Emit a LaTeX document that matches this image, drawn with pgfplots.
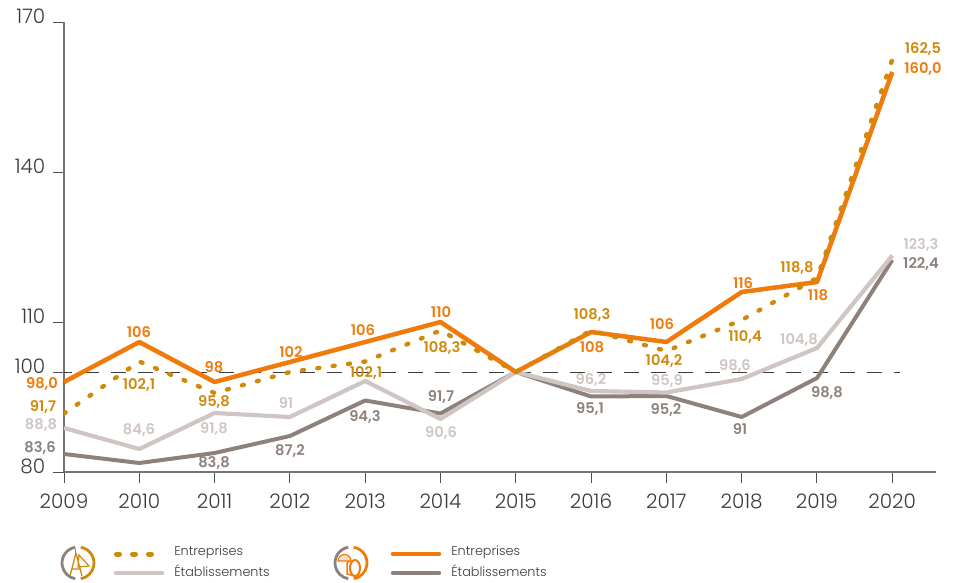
\documentclass[border=0pt]{standalone}
\usepackage{fontspec}
\usepackage{pgfplots}
\pgfplotsset{compat=1.18}
\setmainfont{Poppins Light}
\newfontfamily\labf{Poppins SemiBold}
\definecolor{orgS}{HTML}{F07A0A}
\definecolor{golD}{HTML}{CF8A0C}
\definecolor{lig}{HTML}{CFC6C3}
\definecolor{dar}{HTML}{8E817B}
\definecolor{txt}{HTML}{3C3A3A}
\newlength{\uu}\setlength{\uu}{0.75pt}
\newcommand{\lab}[4]{\node[text=#4,font=\labf\fontsize{11}{12}\selectfont,inner sep=0pt,anchor=center] at ({(#1-64)*\uu},{(472-#2)*\uu}) {#3};}
\begin{document}
\begin{tikzpicture}
\useasboundingbox (-64\uu,-110\uu) rectangle (892\uu,472\uu);
\begin{axis}[
  at={(0,0)},anchor=south west,scale only axis,
  width=872\uu,height=450\uu,
  xmin=2009,xmax=2020.58,ymin=80,ymax=170,
  axis lines=left,axis line style={-,color=txt!70,line width=0.8pt},
  xtick={2009,...,2020},ytick={80,100,110,140,170},
  tick align=outside,major tick length=11\uu,
  tick style={color=txt!90,line width=0.7pt},
  /pgf/number format/assume math mode=true,
  /pgf/number format/1000 sep={},
  xticklabel style={font=\fontsize{15}{16}\selectfont,text=txt,yshift=-6\uu},
  yticklabel style={font=\fontsize{15}{16}\selectfont,text=txt,yshift=6\uu,xshift=-3\uu},
]
\addplot[txt,line width=0.55pt,dash pattern=on 15\uu off 12\uu,dash phase=7\uu,forget plot] coordinates {(2009,100)(2020.1,100)};
\addplot[dar,line width=4\uu,line join=round] coordinates {(2009,83.6)(2010,81.8)(2011,83.8)(2012,87.2)(2013,94.3)(2014,91.7)(2015,100)(2016,95.1)(2017,95.2)(2018,91)(2019,98.8)(2020,122.4)};
\addplot[lig,line width=4.2\uu,line join=round] coordinates {(2009,88.8)(2010,84.6)(2011,91.8)(2012,91)(2013,98.2)(2014,90.6)(2015,100)(2016,96.2)(2017,95.9)(2018,98.6)(2019,104.8)(2020,123.3)};
\addplot[orgS,line width=4.5\uu,line join=round] coordinates {(2009,98)(2010,106)(2011,98)(2012,102)(2013,106)(2014,110)(2015,100)(2016,108)(2017,106)(2018,116)(2019,118)(2020,160)};
\addplot[golD,line width=4.4\uu,line cap=round,dash pattern=on 2\uu off 13.5\uu] coordinates {(2009,91.7)(2010,102.1)(2011,95.8)(2012,100)(2013,102.1)(2014,108.3)(2015,100)(2016,108.3)(2017,104.2)(2018,110.4)(2019,118.8)(2020,162.5)};
\end{axis}
% solid orange labels
\lab{42}{384}{98,0}{orgS}\lab{139}{332}{106}{orgS}\lab{214}{367}{98}{orgS}\lab{291}{352}{102}{orgS}\lab{363}{330}{106}{orgS}\lab{441}{312}{110}{orgS}\lab{592}{347}{108}{orgS}\lab{662}{324}{106}{orgS}\lab{743}{283}{116}{orgS}\lab{818}{295}{118}{orgS}\lab{923}{69}{160,0}{orgS}
% dotted labels
\lab{43}{407}{91,7}{golD}\lab{139}{385}{102,1}{golD}\lab{214}{402}{95,8}{golD}\lab{366}{373}{102,1}{golD}\lab{442}{348}{108,3}{golD}\lab{592}{315}{108,3}{golD}\lab{664}{361}{104,2}{golD}\lab{745}{337}{110,4}{golD}\lab{797}{268}{118,8}{golD}\lab{923}{49}{162,5}{golD}
% light labels
\lab{41}{425}{88,8}{lig}\lab{139}{430}{84,6}{lig}\lab{214}{429}{91,8}{lig}\lab{286}{403}{91}{lig}\lab{441}{433}{90,6}{lig}\lab{591}{380}{96,2}{lig}\lab{667}{381}{95,9}{lig}\lab{735}{366}{98,6}{lig}\lab{799}{340}{104,8}{lig}\lab{921}{245}{123,3}{lig}
% dark labels
\lab{40}{448}{83,6}{dar}\lab{214}{463}{83,8}{dar}\lab{290}{451}{87,2}{dar}\lab{365}{417}{94,3}{dar}\lab{441}{397}{91,7}{dar}\lab{590}{409}{95,1}{dar}\lab{666}{410}{95,2}{dar}\lab{740}{429}{91}{dar}\lab{827}{393}{98,8}{dar}\lab{921}{264}{122,4}{dar}
% legend
\begin{scope}[shift={(-64\uu,-110\uu)},x=\uu,y=\uu]
 % y here = 582 - pixel row
 \draw[golD,line width=5\uu,line cap=round,dash pattern=on 3\uu off 13\uu] (116.5,28)--(153,28);
 \draw[lig,line width=4.4\uu,line cap=round] (116,9)--(162,9);
 \draw[orgS,line width=4.6\uu,line cap=round] (393,28)--(439,28);
 \draw[dar,line width=4.4\uu,line cap=round] (393,9)--(439,9);
 \foreach \xx in {174,451}{
  \node[anchor=west,inner sep=0pt,text=txt,font=\fontsize{9.6}{10}\selectfont] at (\xx,30) {Entreprises};
  \node[anchor=west,inner sep=0pt,text=txt,font=\fontsize{9.6}{10}\selectfont] at (\xx,11) {Établissements};
 }
 % icon 1, centre (78,19)
 \draw[dar,line width=2.8\uu] (78,19)++(100:16) arc[start angle=100,end angle=260,radius=16];
 \draw[golD,line width=2.8\uu] (78,19)++(80:16) arc[start angle=80,end angle=-80,radius=16];
 \draw[dar,line width=1\uu] (75,33)--(75,29);
 \draw[golD,line width=1.3\uu] (76,29)--(70,6) (76,29)--(82,6) (71.5,13)--(80.5,13);
 \draw[golD,line width=1.2\uu] (79,27)--(89,16)--(78,15)--cycle;
 % icon 2, centre (351,19)
 \draw[dar,line width=2.8\uu] (351,19)++(100:16) arc[start angle=100,end angle=260,radius=16];
 \draw[orgS,line width=2.8\uu] (351,19)++(80:16) arc[start angle=80,end angle=-80,radius=16];
 \draw[orgS,line width=2\uu] (355,14) ellipse[x radius=5,y radius=8];
 \draw[orgS,line width=1.5\uu] (351,22)--(347,19)--(347,8)--(355,6);
 \draw[orgS,line width=1.2\uu,fill=orgS!25] (338,21) arc[start angle=180,end angle=0,radius=6.5]--cycle;
\end{scope}
\end{tikzpicture}
\end{document}
